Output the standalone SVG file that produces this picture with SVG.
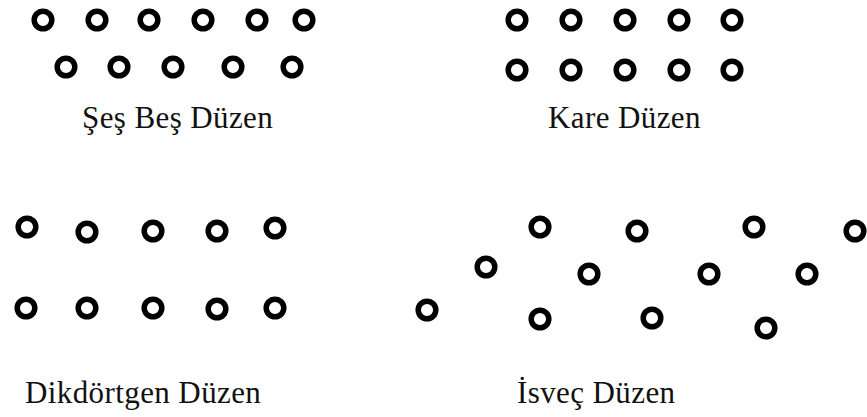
<svg xmlns="http://www.w3.org/2000/svg" width="867" height="417" viewBox="0 0 867 417">
<style>
.c{fill:none;stroke:#000;stroke-width:5.5}
.t{font-family:"Liberation Serif","Times New Roman",serif;font-size:31px;fill:#111;letter-spacing:0.4px}
</style>
<rect width="867" height="417" fill="#fff"/>
<g id="ses-bes">
<circle class="c" cx="43" cy="20" r="8.8"/>
<circle class="c" cx="97" cy="20" r="8.8"/>
<circle class="c" cx="149" cy="20" r="8.8"/>
<circle class="c" cx="203" cy="20" r="8.8"/>
<circle class="c" cx="257" cy="20" r="8.8"/>
<circle class="c" cx="304" cy="20" r="8.8"/>
<circle class="c" cx="66" cy="67" r="8.8"/>
<circle class="c" cx="119" cy="67" r="8.8"/>
<circle class="c" cx="173" cy="67" r="8.8"/>
<circle class="c" cx="233" cy="67" r="8.8"/>
<circle class="c" cx="292" cy="67" r="8.8"/>
<text class="t" x="82" y="128">Şeş Beş Düzen</text>
</g>
<g id="kare">
<circle class="c" cx="517" cy="20" r="8.8"/>
<circle class="c" cx="571" cy="20" r="8.8"/>
<circle class="c" cx="625" cy="20" r="8.8"/>
<circle class="c" cx="679" cy="20" r="8.8"/>
<circle class="c" cx="732" cy="20" r="8.8"/>
<circle class="c" cx="517" cy="70" r="8.8"/>
<circle class="c" cx="571" cy="70" r="8.8"/>
<circle class="c" cx="625" cy="70" r="8.8"/>
<circle class="c" cx="679" cy="70" r="8.8"/>
<circle class="c" cx="732" cy="70" r="8.8"/>
<text class="t" x="548" y="128">Kare Düzen</text>
</g>
<g id="dikdortgen">
<circle class="c" cx="27" cy="227" r="8.8"/>
<circle class="c" cx="87" cy="232" r="8.8"/>
<circle class="c" cx="153" cy="231" r="8.8"/>
<circle class="c" cx="217" cy="231" r="8.8"/>
<circle class="c" cx="275" cy="228" r="8.8"/>
<circle class="c" cx="26" cy="308" r="8.8"/>
<circle class="c" cx="87" cy="308" r="8.8"/>
<circle class="c" cx="153" cy="308" r="8.8"/>
<circle class="c" cx="217" cy="309" r="8.8"/>
<circle class="c" cx="275" cy="308" r="8.8"/>
<text class="t" x="25" y="403">Dikdörtgen Düzen</text>
</g>
<g id="isvec">
<circle class="c" cx="540" cy="227" r="8.8"/>
<circle class="c" cx="637" cy="231" r="8.8"/>
<circle class="c" cx="754" cy="227" r="8.8"/>
<circle class="c" cx="855" cy="231" r="8.8"/>
<circle class="c" cx="486" cy="267" r="8.8"/>
<circle class="c" cx="589" cy="274" r="8.8"/>
<circle class="c" cx="709" cy="274" r="8.8"/>
<circle class="c" cx="807" cy="274" r="8.8"/>
<circle class="c" cx="427" cy="310" r="8.8"/>
<circle class="c" cx="540" cy="319" r="8.8"/>
<circle class="c" cx="652" cy="318" r="8.8"/>
<circle class="c" cx="766" cy="328" r="8.8"/>
<text class="t" x="517" y="403">İsveç Düzen</text>
</g>
</svg>
